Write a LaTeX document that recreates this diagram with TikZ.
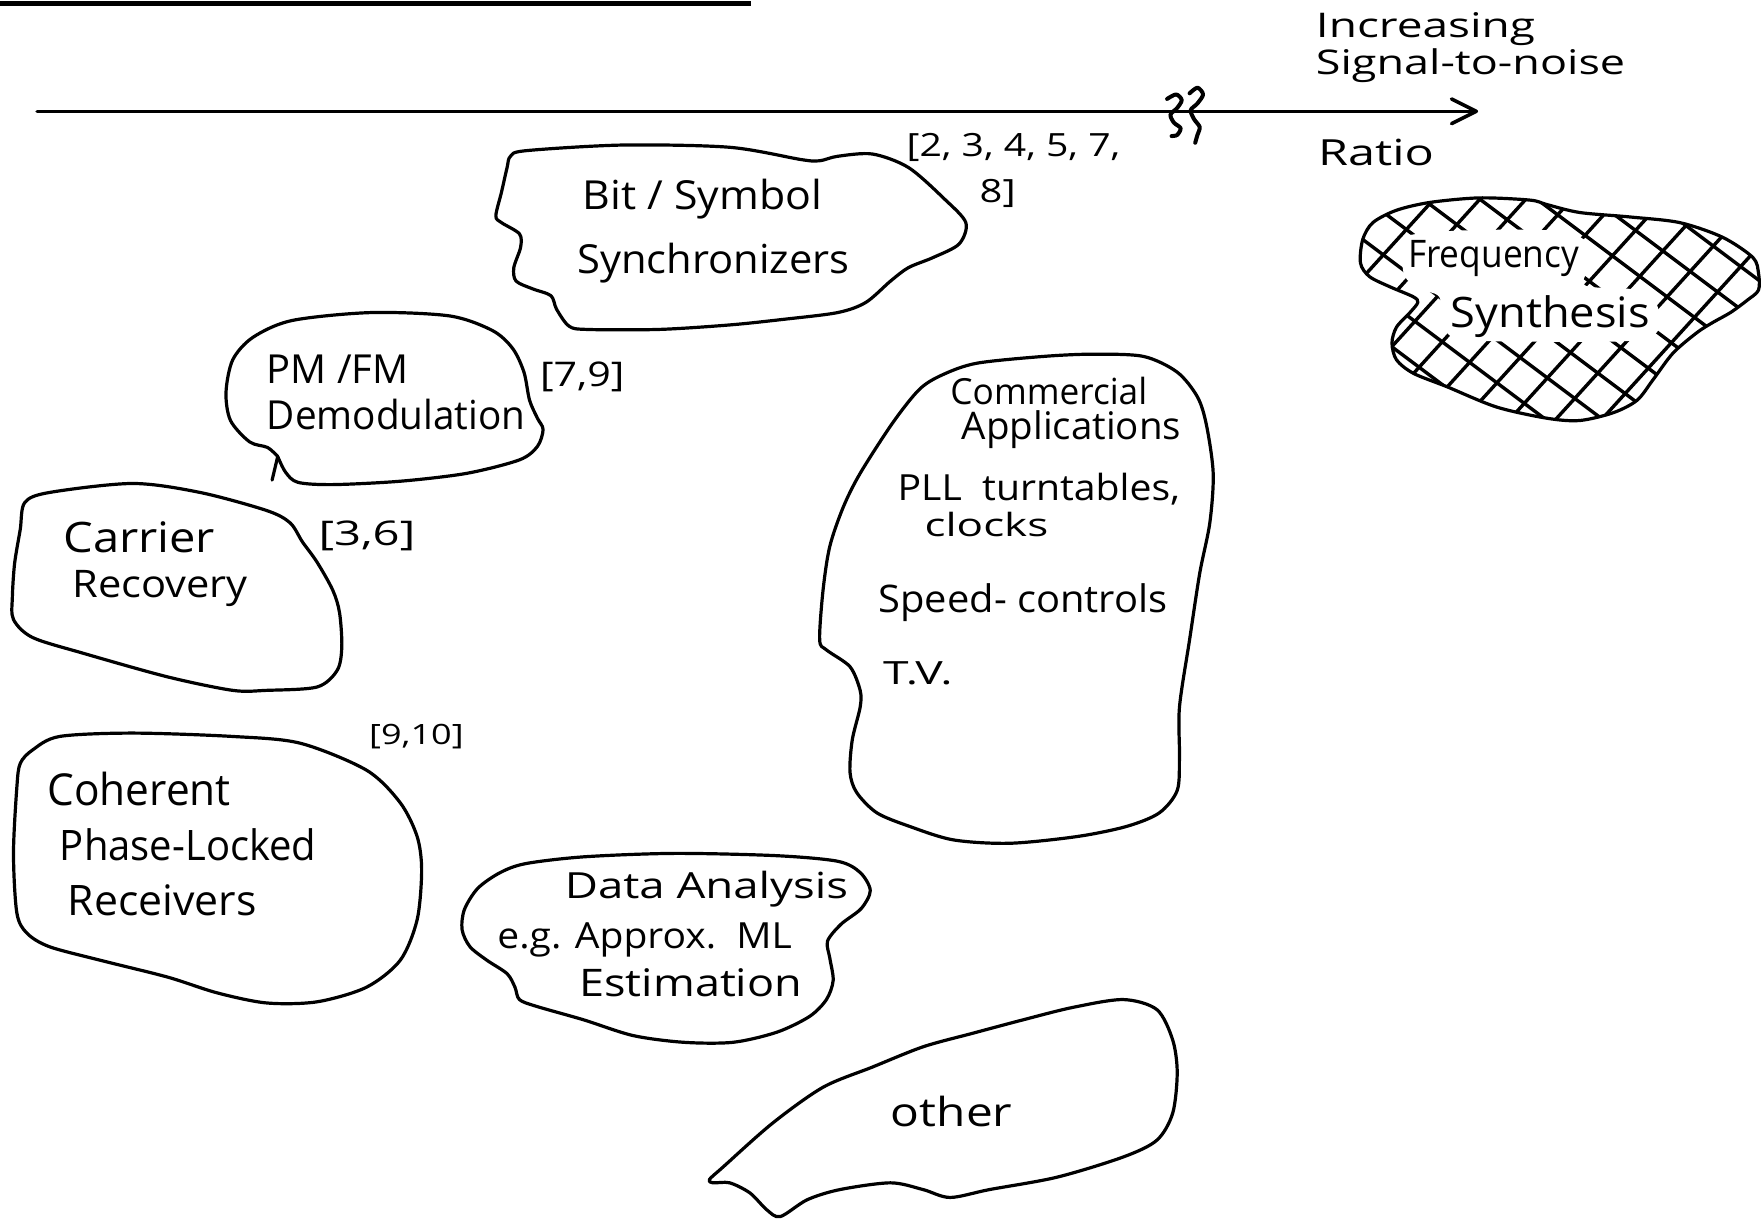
\documentclass[tikz,border=0pt]{standalone}
\usepackage{fontspec}
\setmainfont{Open Sans}
\usepackage{graphicx}
\newlength\pxu
\setlength\pxu{0.5622pt}
% set a label at a given width (in picture units), keeping its height
\newcommand\hw[2]{\resizebox{#1\pxu}{\height}{#2}}
\begin{document}
\begin{tikzpicture}[x=0.5622pt,y=-0.5622pt,line cap=round,line join=round,
  outline/.style={line width=1.6pt},
  hatch/.style={line width=1.7pt},
  lab/.style={anchor=base west,inner sep=0pt,font=\fontsize{#1}{#1}\selectfont},
  lab/.default=20]
\useasboundingbox (0,0) rectangle (1568,1085);

% rule at the top
\coordinate (rule0) at (0,3);
\coordinate (rule1) at (668,3);
\draw[line width=2.8pt,line cap=butt] (rule0) -- (rule1);

% signal-to-noise axis with a break
\coordinate (axL) at (33,99);
\coordinate (axR) at (1313,99);
\draw[line width=1.8pt] (axL) -- (axR);
\draw[line width=1.8pt] (axR) -- +(-22,-11) (axR) -- +(-22,11);
\draw[line width=2pt] plot[smooth] coordinates {(1038,88) (1046,84) (1051,89) (1047,96) (1041,102) (1044,109) (1050,114) (1047,120) (1042,121)};
\draw[line width=2pt] plot[smooth] coordinates {(1058,83) (1065,78) (1070,84) (1065,92) (1059,98) (1062,106) (1067,113) (1065,120) (1063,127)};
\node[lab=17] (inc) at (1170,33) {\hw{195}{Increasing}};
\node[lab=17] (snr) at (1170,66) {\hw{275}{Signal-to-noise}};
\node[lab=18] (ratio) at (1172,147) {\hw{103}{Ratio}};

% bit / symbol synchronizers
\draw[outline] plot[smooth cycle] coordinates {(454,139) (468,134) (554,129) (649,131) (713,142) (729,143) (745,139) (776,137) (808,149) (840,177) (859,198) (853,217) (830,229) (808,238) (792,250) (770,269) (745,278) (697,284) (649,289) (586,293) (522,293) (506,290) (495,275) (490,263) (474,257) (459,250) (457,238) (463,220) (462,208) (446,198) (441,192) (446,171) (451,149)};
\node[lab=20] (bit) at (518,186) {\hw{213}{Bit / Symbol}};
\node[lab=20] (sync) at (513,243) {\hw{242}{Synchronizers}};
\node[lab=16] (refA) at (806,139) {\hw{190}{[2, 3, 4, 5, 7,}};
\node[lab=16] (refB) at (871,180) {\hw{32}{8]}};

% PM/FM demodulation
\draw[outline] plot[smooth] coordinates {(247,406) (254,420) (265,429) (296,431) (356,428) (415,421) (462,409) (478,397) (483,382) (478,372) (471,356) (466,331) (456,310) (438,294) (400,281) (330,278) (260,285) (225,300) (207,320) (201,349) (205,374) (222,393) (238,398) (247,406)};
\coordinate (tail) at (242,427);
\draw[outline] (247,406) -- (tail);
\node[lab=20] (pm) at (237,341) {\hw{126}{PM /FM}};
\node[lab=20] (demod) at (237,382) {\hw{230}{Demodulation}};
\node[lab=17] (refC) at (480,344) {\hw{75}{[7,9]}};

% carrier recovery
\draw[outline] plot[smooth cycle] coordinates {(22,447) (44,438) (118,430) (178,438) (237,454) (258,465) (269,482) (282,500) (296,525) (302,545) (304,575) (300,596) (282,611) (237,614) (207,614) (149,602) (74,581) (29,567) (12,551) (11,531) (13,501) (18,471)};
\node[lab=21] (car) at (56,491) {\hw{135}{Carrier}};
\node[lab=19] (rec) at (64,531) {\hw{156}{Recovery}};
\node[lab=17] (refD) at (283,485) {\hw{86}{[3,6]}};

% coherent receivers
\draw[outline] plot[smooth cycle] coordinates {(53,655) (118,652) (207,655) (267,661) (326,685) (356,714) (371,744) (375,774) (371,818) (356,854) (326,878) (282,891) (237,892) (193,883) (149,869) (89,854) (44,842) (24,830) (15,812) (12,759) (15,700) (18,679) (29,667)};
\node[lab=22] (coh) at (42,716) {\hw{163}{Coherent}};
\node[lab=21] (pll) at (53,765) {\hw{228}{Phase-Locked}};
\node[lab=21] (rcv) at (60,814) {\hw{168}{Receivers}};
\node[lab=14] (refE) at (328,662) {\hw{84}{[9,10]}};

% data analysis
\draw[outline] plot[smooth cycle] coordinates {(468,768) (520,762) (600,759) (690,761) (745,766) (765,776) (774,792) (766,808) (748,822) (736,837) (738,852) (741,872) (735,889) (720,904) (691,918) (652,927) (608,927) (563,921) (519,907) (477,895) (462,889) (458,878) (451,866) (433,854) (418,842) (411,827) (413,809) (425,790) (445,776)};
\node[lab=18] (data) at (502,799) {\hw{252}{Data Analysis}};
\node[lab=18] (eg) at (442,844) {\hw{262}{e.g. Approx.\ \ ML}};
\node[lab=19] (est) at (515,886) {\hw{198}{Estimation}};

% other
\draw[outline] plot[smooth cycle] coordinates {(631,1049) (643,1038) (687,999) (732,967) (776,949) (821,931) (865,919) (910,907) (954,896) (999,889) (1029,898) (1043,925) (1047,954) (1043,990) (1029,1014) (999,1029) (940,1047) (880,1058) (845,1065) (821,1058) (792,1052) (747,1058) (718,1067) (694,1082) (682,1076) (667,1061) (649,1052) (634,1052)};
\node[lab=20] (oth) at (792,1002) {\hw{108}{other}};

% commercial applications
\draw[outline] plot[smooth cycle] coordinates {(972,315) (1017,317) (1047,331) (1065,353) (1073,378) (1079,421) (1076,465) (1067,510) (1058,569) (1049,629) (1049,673) (1047,703) (1031,723) (1002,735) (958,744) (898,750) (848,747) (809,735) (780,723) (762,705) (756,687) (758,658) (765,629) (765,614) (756,593) (735,578) (729,569) (732,525) (738,486) (750,451) (765,421) (794,376) (818,346) (839,333) (869,323) (928,317)};
\node[lab=18] (com) at (845,360) {\hw{175}{Commercial}};
\node[lab=19] (app) at (855,391) {\hw{195}{Applications}};
\node[lab=18] (turn) at (798,445) {\hw{251}{PLL\ \ turntables,}};
\node[lab=16] (clk) at (822,477) {\hw{110}{clocks}};
\node[lab=19] (spd) at (781,545) {\hw{257}{Speed- controls}};
\node[lab=16] (tv) at (785,609) {\hw{62}{T.V.}};

% frequency synthesis, cross-hatched
\def\fsblob{(1221,198) (1242,187) (1272,180) (1316,176) (1361,178) (1376,182) (1405,189) (1450,193) (1494,198) (1532,211) (1559,229) (1564,243) (1564,258) (1554,267) (1539,278) (1523,287) (1509,296) (1488,314) (1470,338) (1456,356) (1435,367) (1405,374) (1376,372) (1331,362) (1287,344) (1257,332) (1242,320) (1238,305) (1242,291) (1254,278) (1261,269) (1257,264) (1236,255) (1218,246) (1210,234) (1212,213)}
\begin{scope}
  \clip plot[smooth cycle] coordinates {\fsblob};
  \foreach \c in {-1000,-962,...,-500}
    \draw[hatch] (1200,{0.75*1200+\c}) -- (1570,{0.75*1570+\c});
  \foreach \c in {1490,1535,...,2120}
    \draw[hatch] (1200,{-1.1*1200+\c}) -- (1570,{-1.1*1570+\c});
  \fill[white] plot[smooth cycle] coordinates {(1250,210) (1300,205) (1380,205) (1410,214) (1414,235) (1410,254) (1458,258) (1474,272) (1474,295) (1452,303) (1380,304) (1300,302) (1284,290) (1280,264) (1262,257) (1249,245) (1247,222)};
\end{scope}
\draw[outline] plot[smooth cycle] coordinates {\fsblob};
\node[lab=19] (freq) at (1252,238) {\hw{152}{Frequency}};
\node[lab=21] (syn) at (1290,291) {\hw{177}{Synthesis}};
\end{tikzpicture}
\end{document}
